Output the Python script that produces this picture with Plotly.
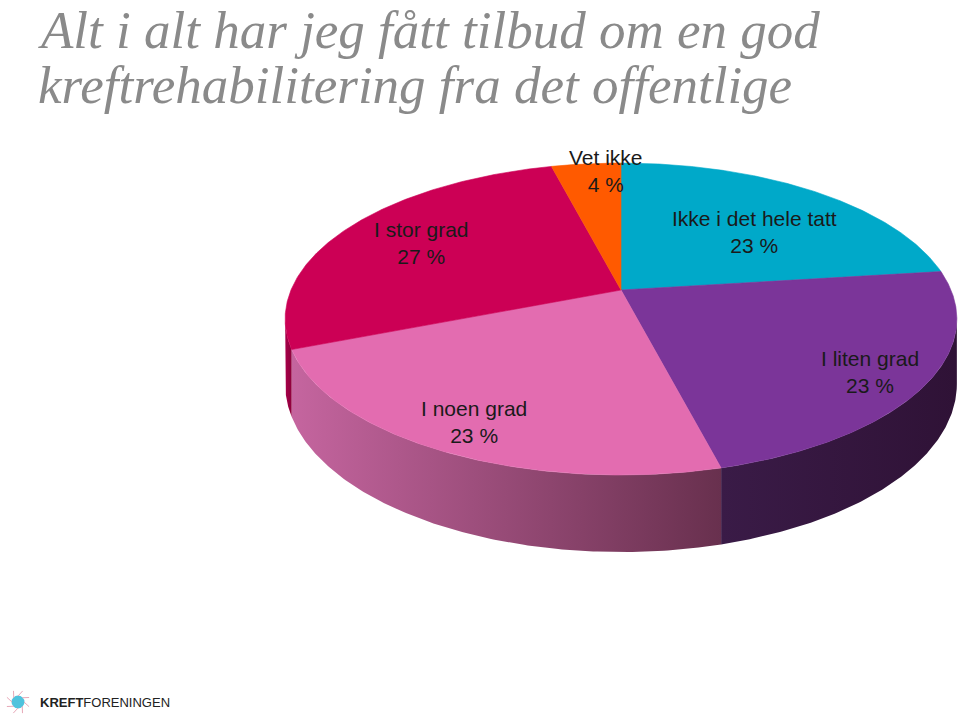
import numpy as np
import plotly.graph_objects as go

# ---- data ----
categories = ["Ikke i det hele tatt", "I liten grad", "I noen grad", "I stor grad", "Vet ikke"]
values = [23, 23, 23, 27, 4]
label_text = ["Ikke i det hele tatt<br>23 %", "I liten grad<br>23 %", "I noen grad<br>23 %",
              "I stor grad<br>27 %", "Vet ikke<br>4 %"]
title_lines = ["Alt i alt har jeg fått tilbud om en god", "kreftrehabilitering fra det offentlige"]

# ---- style ----
top_colors = ["#00A9C9", "#7B3599", "#E36CB0", "#CC0055", "#FF5A00"]
side_scales = [
    [[0, "#007A92"], [1, "#00606F"]],
    [[0, "#3A1B47"], [1, "#2F1236"]],
    [[0, "#C5659F"], [1, "#68304E"]],
    [[0, "#A8004A"], [1, "#8E003C"]],
    [[0, "#C04000"], [1, "#A03000"]],
]
label_pos = [(754, 232), (870, 372), (474, 422), (421, 243), (606, 171)]

W, H = 960, 719
# perspective pie geometry (screen pixels)
xc, yc = 621, 290          # projected centre
A, B = 330, 150.6          # horizontal / vertical radii at centre depth
K = 0.186                  # perspective strength
T = 62.7                   # thickness at centre depth


def proj(theta_deg, dy=0.0):
    t = np.radians(theta_deg)
    u = np.sin(t)
    v = -np.cos(t)         # +1 = front
    d = 1.0 - K * v
    return xc + A * u / d, yc + B * v / d + dy * T / d


fig = go.Figure()

total = float(sum(values))
starts = np.concatenate([[0], np.cumsum(values)[:-1]]) / total * 360.0
ends = np.cumsum(values) / total * 360.0

# visible side range: between the silhouette points (v = K)
sil = np.degrees(np.arccos(-K))
for i, (s, e) in enumerate(zip(starts, ends)):
    vs, ve = max(s, sil), min(e, 360.0 - sil)
    if ve <= vs:
        continue
    th = np.linspace(vs, ve, 150)
    xt, yt = proj(th)
    xb, yb = proj(th[::-1], 1.0)
    xs = np.concatenate([xt, xb, [xt[0]]])
    ys = np.concatenate([yt, yb, [yt[0]]])
    fig.add_trace(go.Scatter(
        x=xs, y=ys, mode="lines", fill="toself",
        fillgradient=dict(type="horizontal", colorscale=side_scales[i]),
        line=dict(width=0), hoverinfo="skip", showlegend=False))

# top faces
for i, (s, e) in enumerate(zip(starts, ends)):
    th = np.linspace(s, e, 200)
    xt, yt = proj(th)
    xs = np.concatenate([[xc], xt, [xc]])
    ys = np.concatenate([[yc], yt, [yc]])
    fig.add_trace(go.Scatter(
        x=xs, y=ys, mode="lines", fill="toself", fillcolor=top_colors[i],
        line=dict(width=0.6, color=top_colors[i]), name=categories[i],
        hoverinfo="name", showlegend=False))

annotations = []
for txt, (lx, ly) in zip(label_text, label_pos):
    annotations.append(dict(x=lx, y=ly, xref="x", yref="y", text=txt, showarrow=False,
                            font=dict(family="Liberation Sans, Arial", size=21, color="#1a1a1a"),
                            align="center"))

for j, line in enumerate(title_lines):
    annotations.append(dict(x=37, y=30 + 55 * j, xref="x", yref="y",
                            text="<i>" + line + "</i>", showarrow=False, borderpad=0,
                            xanchor="left", yanchor="middle", align="left",
                            font=dict(family="Liberation Serif, Times New Roman", size=53,
                                      color="#8A8A8A")))

# logo
annotations.append(dict(x=38, y=702, xref="x", yref="y", text="<b>KREFT</b>FORENINGEN",
                        showarrow=False, xanchor="left", yanchor="middle",
                        font=dict(family="Liberation Sans, Arial", size=13, color="#222222")))
shapes = []
for ang in range(0, 360, 45):
    r = np.radians(ang)
    shapes.append(dict(type="line", xref="x", yref="y",
                       x0=18 + 6 * np.cos(r), y0=702 + 6 * np.sin(r),
                       x1=18 + 12 * np.cos(r + 0.4), y1=702 + 12 * np.sin(r + 0.4),
                       line=dict(color="#E7A9B8", width=1)))
fig.add_trace(go.Scatter(x=[18], y=[702], mode="markers",
                         marker=dict(size=13, color="#4FC3DD"),
                         hoverinfo="skip", showlegend=False))

fig.update_layout(
    width=W, height=H,
    margin=dict(l=0, r=0, t=0, b=0),
    paper_bgcolor="white", plot_bgcolor="white",
    xaxis=dict(range=[0, W], visible=False, fixedrange=True),
    yaxis=dict(range=[H, 0], visible=False, fixedrange=True),
    annotations=annotations, shapes=shapes,
    showlegend=False,
)

fig.write_html("out.html", config={"displayModeBar": False},
               post_script="document.body.style.margin='0';document.body.style.overflow='hidden';")
